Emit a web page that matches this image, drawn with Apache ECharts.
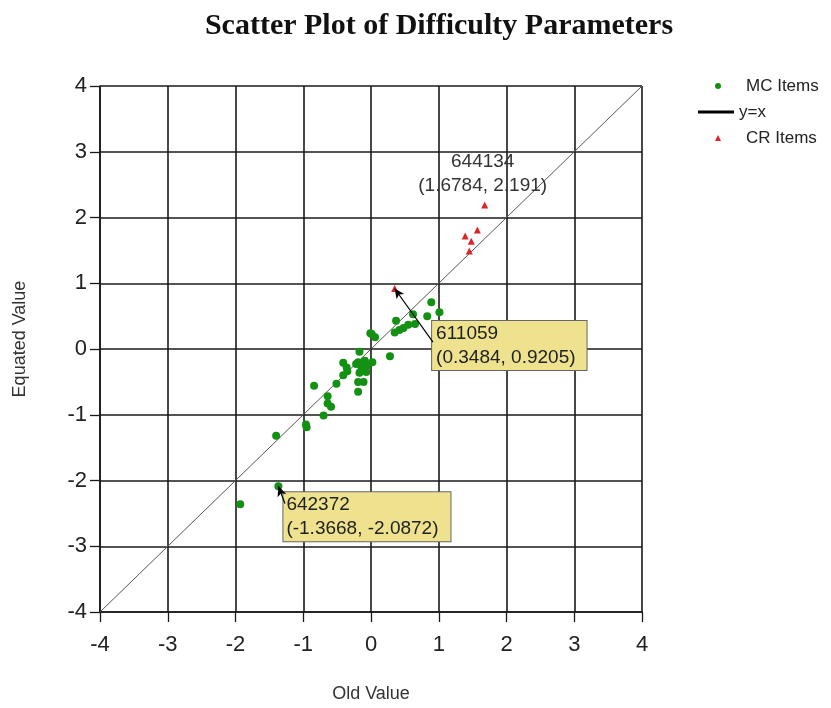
<!DOCTYPE html>
<html>
<head>
<meta charset="utf-8">
<script src="https://cdn.jsdelivr.net/npm/echarts@6/dist/echarts.min.js"></script>
<style>
  html, body { margin: 0; padding: 0; background: #fff; }
  #chart { width: 831px; height: 708px; }
</style>
</head>
<body>
<div id="chart"></div>
<script>
// Multiple-choice items: old vs equated difficulty
var mcOld = [0.89, 1.01, 0.83, 0.62, 0.37, 0.65, 0.55, 0.48, 0.42, 0.35, 0.01, -0.01, 0.06,
  -0.17, 0.28, 0.02, -0.09, -0.19, -0.41, -0.36, -0.14, -0.07, -0.17, -0.41, -0.35, -0.22,
  -0.06, -0.51, -0.84, -0.19, -0.11, -0.19, -0.64, -0.64, -0.59, -0.70, -0.96, -0.95, -1.40,
  -1.3668, -1.93];
var mcEquated = [0.71, 0.56, 0.50, 0.53, 0.43, 0.38, 0.37, 0.32, 0.29, 0.25, 0.23, 0.24, 0.18,
  -0.04, -0.11, -0.20, -0.18, -0.20, -0.21, -0.28, -0.28, -0.35, -0.36, -0.40, -0.34, -0.23,
  -0.26, -0.53, -0.56, -0.50, -0.50, -0.65, -0.72, -0.83, -0.88, -1.01, -1.15, -1.19, -1.32,
  -2.0872, -2.36];

// Constructed-response items
var crOld = [1.6784, 1.57, 1.39, 1.48, 1.45, 0.3484];
var crEquated = [2.191, 1.81, 1.72, 1.64, 1.49, 0.9205];

// Identity reference line
var identityX = [-4, 4];
var identityY = [-4, 4];

// Called-out items
var calloutIds = ['644134', '611059', '642372'];
var calloutOld = [1.6784, 0.3484, -1.3668];
var calloutEquated = [2.191, 0.9205, -2.0872];
// tail of each callout arrow (data units); null = no arrow
var arrowTailOld = [null, 0.915, -1.27];
var arrowTailEquated = [null, 0.106, -2.35];

var axisTicks = [-4, -3, -2, -1, 0, 1, 2, 3, 4];

var FONT = '"Liberation Sans", Arial, sans-serif';

// Label placement for each callout
var calloutStyle = {
  '644134': {
    position: 'top', distance: 4, offset: [-2, 0], align: 'center',
    color: '#333', fontSize: 19, lineHeight: 24, fontFamily: FONT
  },
  '611059': {
    position: [41, 36], align: 'left', verticalAlign: 'top',
    backgroundColor: '#EEE28E', borderColor: '#666', borderWidth: 1,
    padding: [1, 11, 0, 4], color: '#222', fontSize: 19, lineHeight: 24, fontFamily: FONT
  },
  '642372': {
    position: [9, 10], align: 'left', verticalAlign: 'top',
    backgroundColor: '#EEE28E', borderColor: '#666', borderWidth: 1,
    padding: [1, 12, 0, 3], color: '#222', fontSize: 19, lineHeight: 24, fontFamily: FONT
  }
};

function calloutIndex(x, y) {
  for (var i = 0; i < calloutIds.length; i++) {
    if (calloutOld[i] === x && calloutEquated[i] === y) return i;
  }
  return -1;
}

function buildData(xs, ys) {
  return xs.map(function (x, i) {
    var y = ys[i];
    var k = calloutIndex(x, y);
    if (k < 0) return [x, y];
    var id = calloutIds[k];
    var lab = Object.assign({ show: true }, calloutStyle[id]);
    lab.formatter = id + '\n(' + x + ', ' + y + ')';
    return { value: [x, y], label: lab };
  });
}

function buildArrows(xs, ys) {
  var out = [];
  xs.forEach(function (x, i) {
    var k = calloutIndex(x, ys[i]);
    if (k >= 0 && arrowTailOld[k] !== null) {
      out.push([{ coord: [arrowTailOld[k], arrowTailEquated[k]] }, { coord: [x, ys[i]] }]);
    }
  });
  return out;
}

function arrowMarkLine(xs, ys) {
  return {
    silent: true,
    animation: false,
    symbol: ['none', 'arrow'],
    symbolSize: [7, 10],
    label: { show: false },
    lineStyle: { color: '#000', width: 1.2, type: 'solid' },
    emphasis: { disabled: true },
    data: buildArrows(xs, ys)
  };
}

var axisCommon = {
  type: 'value',
  min: -4,
  max: 4,
  interval: 1,
  axisLine: { onZero: false, lineStyle: { color: '#1a1a1a', width: 1.6 } },
  axisTick: { show: true, length: 10, lineStyle: { color: '#1a1a1a', width: 1.3 } },
  splitLine: { show: true, lineStyle: { color: '#1a1a1a', width: 1.6 } },
  nameLocation: 'middle',
  nameTextStyle: { fontFamily: FONT, fontSize: 18, color: '#333' }
};

// Legend text with extra lead-in space after the icon
function legendText(pad) {
  return {
    fontFamily: FONT, fontSize: 17, lineHeight: 20, color: '#222',
    rich: { p: { fontFamily: FONT, fontSize: 17, lineHeight: 20, color: '#222', padding: [0, 0, 0, pad] } }
  };
}

var chart = echarts.init(document.getElementById('chart'), null, { renderer: 'canvas' });

chart.setOption({
  animation: false,
  backgroundColor: '#fff',
  title: {
    text: 'Scatter Plot of Difficulty Parameters',
    left: 434,
    top: 6,
    textAlign: 'center',
    textStyle: { fontFamily: '"Liberation Serif", "Times New Roman", serif', fontWeight: 'bold', fontSize: 30, color: '#111' }
  },
  grid: { left: 100, right: 189, top: 86, bottom: 94 },
  xAxis: Object.assign({}, axisCommon, {
    name: 'Old Value',
    nameGap: 73,
    axisLabel: {
      margin: 22, fontFamily: FONT, fontSize: 22, color: '#222',
      formatter: function (v) { return axisTicks.indexOf(v) >= 0 ? String(v) : ''; }
    }
  }),
  yAxis: Object.assign({}, axisCommon, {
    name: 'Equated Value',
    nameGap: 71,
    nameTextStyle: { fontFamily: FONT, fontSize: 18, color: '#333', padding: [0, 0, 0, 20] },
    axisLabel: {
      margin: 13, fontFamily: FONT, fontSize: 22, color: '#222',
      formatter: function (v) { return axisTicks.indexOf(v) >= 0 ? String(v) : ''; }
    }
  }),
  legend: [
    {
      data: ['MC Items'], left: 715, top: 76, padding: 0, orient: 'vertical',
      itemWidth: 6, itemHeight: 6, selectedMode: false,
      formatter: '{p|{name}}',
      textStyle: legendText(20)
    },
    {
      data: [{ name: 'y=x', icon: 'rect', itemStyle: { color: '#000' } }],
      left: 698, top: 102, padding: 0, orient: 'vertical',
      itemWidth: 36, itemHeight: 3, selectedMode: false,
      textStyle: legendText(0)
    },
    {
      data: ['CR Items'], left: 715, top: 128, padding: 0, orient: 'vertical',
      itemWidth: 6, itemHeight: 6, selectedMode: false,
      formatter: '{p|{name}}',
      textStyle: legendText(20)
    }
  ],
  series: [
    {
      name: 'y=x',
      type: 'line',
      data: identityX.map(function (x, i) { return [x, identityY[i]]; }),
      symbol: 'none',
      silent: true,
      z: 1,
      lineStyle: { color: '#555', width: 1 }
    },
    {
      name: 'MC Items',
      type: 'scatter',
      symbol: 'circle',
      symbolSize: 8,
      z: 3,
      itemStyle: { color: '#139113', opacity: 1 },
      data: buildData(mcOld, mcEquated),
      markLine: arrowMarkLine(mcOld, mcEquated)
    },
    {
      name: 'CR Items',
      type: 'scatter',
      symbol: 'triangle',
      symbolSize: 7,
      z: 4,
      itemStyle: { color: '#E0222B', opacity: 1 },
      data: buildData(crOld, crEquated),
      markLine: arrowMarkLine(crOld, crEquated)
    }
  ]
});
</script>
</body>
</html>
